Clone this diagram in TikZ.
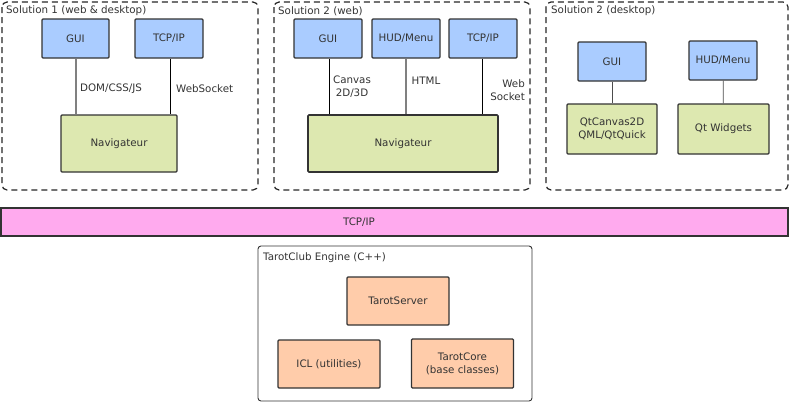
\documentclass[tikz,border=0pt]{standalone}
\usepackage{fontspec}
\setmainfont{DejaVu Sans}
\begin{document}
\begin{tikzpicture}[x=1pt,y=-1pt,
  font=\fontsize{10.3}{13}\selectfont,
  txt/.style={text=black!80},
  box/.style={draw=black!80,line width=1.2pt,rounded corners=1pt,inner sep=0pt,txt,align=center},
  blue/.style={box,fill={rgb,255:red,170;green,204;blue,255}},
  green/.style={box,fill={rgb,255:red,221;green,232;blue,176}},
  orange/.style={box,fill={rgb,255:red,255;green,204;blue,170}},
  group/.style={draw=black!85,line width=1.2pt,dash pattern=on 6pt off 4pt,rounded corners=5pt},
  engine/.style={draw=black!80,line width=0.9pt,rounded corners=3pt},
  conn/.style={draw=black,line width=0.8pt},
  gconn/.style={draw=black!50,line width=1.2pt},
  lbl/.style={txt,anchor=west,inner sep=0pt,align=left},
  title/.style={txt,anchor=west,inner sep=0pt}]
\useasboundingbox (0,0) rectangle (790,402);
% Solution 1
\draw[group] (2,2) rectangle (258,190);
\node[title] (t1) at (6,11) {Solution 1 (web \& desktop)};
\node[blue,minimum width=67,minimum height=39] (g1) at (75.5,38.5) {GUI};
\node[blue,minimum width=68,minimum height=39] (tc1) at (169,38.5) {TCP/IP};
\node[green,minimum width=116,minimum height=57] (n1) at (119,143.5) {Navigateur};
\draw[gconn] (g1.south -| 76,0) -- (n1.north -| 76,0);
\draw[conn] (tc1.south -| 170,0) -- (n1.north -| 170,0);
\node[lbl] (l1) at (80,89) {DOM/CSS/JS};
\node[lbl] (l2) at (176,89) {WebSocket};
% Solution 2 web
\draw[group] (274,2) rectangle (530,190);
\node[title] (t2) at (278,11) {Solution 2 (web)};
\node[blue,minimum width=68,minimum height=39] (g2) at (328,38.5) {GUI};
\node[blue,minimum width=68,minimum height=39] (h2) at (406,38.5) {HUD/Menu};
\node[blue,minimum width=68,minimum height=39] (tc2) at (483,38.5) {TCP/IP};
\node[green,minimum width=190,minimum height=57,line width=1.7pt] (n2) at (403,143.5) {Navigateur};
\draw[conn] (g2.south -| 329,0) -- (n2.north -| 329,0);
\draw[gconn] (h2.south -| 406,0) -- (n2.north -| 406,0);
\draw[conn] (tc2.south -| 482,0) -- (n2.north -| 482,0);
\node[txt,align=center,inner sep=0pt] (l3) at (352,87) {Canvas\\2D/3D};
\node[txt,inner sep=0pt] (l4) at (426,81) {HTML};
\node[txt,align=right,inner sep=0pt,anchor=east] (l5) at (525,90) {Web\\Socket};
% Solution 2 desktop
\draw[group] (546,2) rectangle (788,190);
\node[title] (t3) at (551,11) {Solution 2 (desktop)};
\node[blue,minimum width=68,minimum height=39] (g3) at (612,61.5) {GUI};
\node[blue,minimum width=68,minimum height=39] (h3) at (723,60.5) {HUD/Menu};
\node[green,minimum width=90,minimum height=50] (q3) at (612,129) {QtCanvas2D\\QML/QtQuick};
\node[green,minimum width=91,minimum height=50] (w3) at (723.5,129) {Qt Widgets};
\draw[conn,draw=black!70] (g3) -- (q3);
\draw[conn,draw=black!70] (h3) -- (w3);
% TCP/IP bar
\node[box,rounded corners=0pt,fill={rgb,255:red,255;green,170;blue,238},minimum width=787,minimum height=28] (bar) at (394.5,222) {};
\node[txt,inner sep=0pt] (bt) at (359,222) {TCP/IP};
% Engine
\draw[engine] (258,246) rectangle (532,401);
\node[title] (t4) at (263,258) {TarotClub Engine (C++)};
\node[orange,minimum width=102,minimum height=48] (ts) at (398,301) {TarotServer};
\node[orange,minimum width=102,minimum height=48] (icl) at (329,364) {ICL (utilities)};
\node[orange,minimum width=102,minimum height=49] (tcore) at (462.5,363.5) {TarotCore\\(base classes)};
\end{tikzpicture}
\end{document}
